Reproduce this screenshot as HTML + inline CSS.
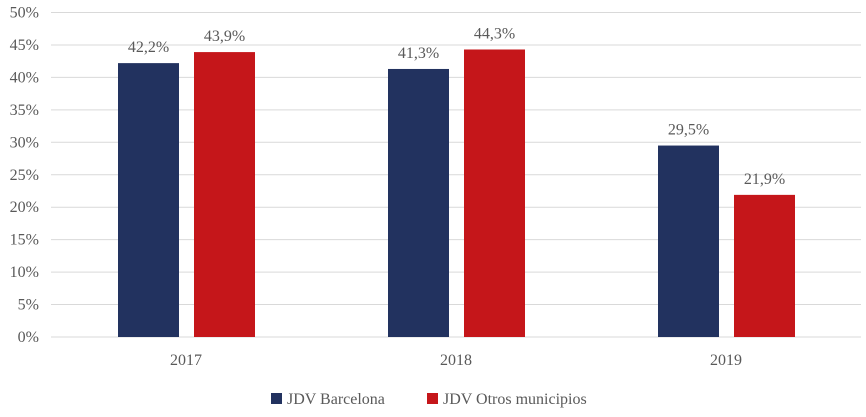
<!DOCTYPE html>
<html><head><meta charset="utf-8"><style>
body{margin:0;background:#fff}
svg text{font-family:"Liberation Serif",serif;fill:#595959}
</style></head><body>
<svg width="866" height="412">
<g id="grid"></g><g id="bars"></g><g id="labels"></g>
<g>
<rect x="271" y="393" width="11" height="11" fill="#22325f"/>
<text x="287" y="404" font-size="16">JDV Barcelona</text>
<rect x="427" y="393" width="11" height="11" fill="#c5161a"/>
<text x="443" y="404" font-size="16">JDV Otros municipios</text>
</g>
</svg>
<script>
const categories=["2017","2018","2019"];
const barcelona=[42.2,41.3,29.5];
const otros=[43.9,44.3,21.9];
const yTicks=[0,5,10,15,20,25,30,35,40,45,50];
const ns="http://www.w3.org/2000/svg";
const x0=51,x1=861,yBase=337,yTop=12.5,yMax=50;
const y=v=>yBase-(v/yMax)*(yBase-yTop);
const cw=(x1-x0)/categories.length;
const cx=i=>x0+cw*(i+0.5);
function mk(tag,attrs,parent){const e=document.createElementNS(ns,tag);for(const k in attrs)e.setAttribute(k,attrs[k]);parent.appendChild(e);return e;}
const grid=document.getElementById('grid'),bars=document.getElementById('bars'),labels=document.getElementById('labels');
yTicks.forEach(t=>{
 const l=mk('line',{x1:x0,x2:x1,y1:y(t),y2:y(t),stroke:'#d9d9d9','stroke-width':1},grid);
 
 
 const tx=mk('text',{x:39,y:y(t)+5,'text-anchor':'end','font-size':16},grid);
 tx.textContent=t+'%';
 
 
});
const fmt=v=>v.toFixed(1).replace('.',',')+'%';
categories.forEach((c,i)=>{
 const c0=cx(i);
 [[barcelona[i],c0-68,'#22325f','barcelona'],[otros[i],c0+8,'#c5161a','otros']].forEach(([v,bx,col,nm])=>{
  const r=mk('rect',{x:bx,y:y(v),width:61,height:yBase-y(v),fill:col},bars);
  
  
  const t=mk('text',{x:bx+30.5,y:y(v)-11,'text-anchor':'middle','font-size':16},labels);
  t.textContent=fmt(v);
  
  
 });
 const xt=mk('text',{x:c0,y:365,'text-anchor':'middle','font-size':16},labels);
 xt.textContent=c;
 
 
});
</script>
</body></html>
